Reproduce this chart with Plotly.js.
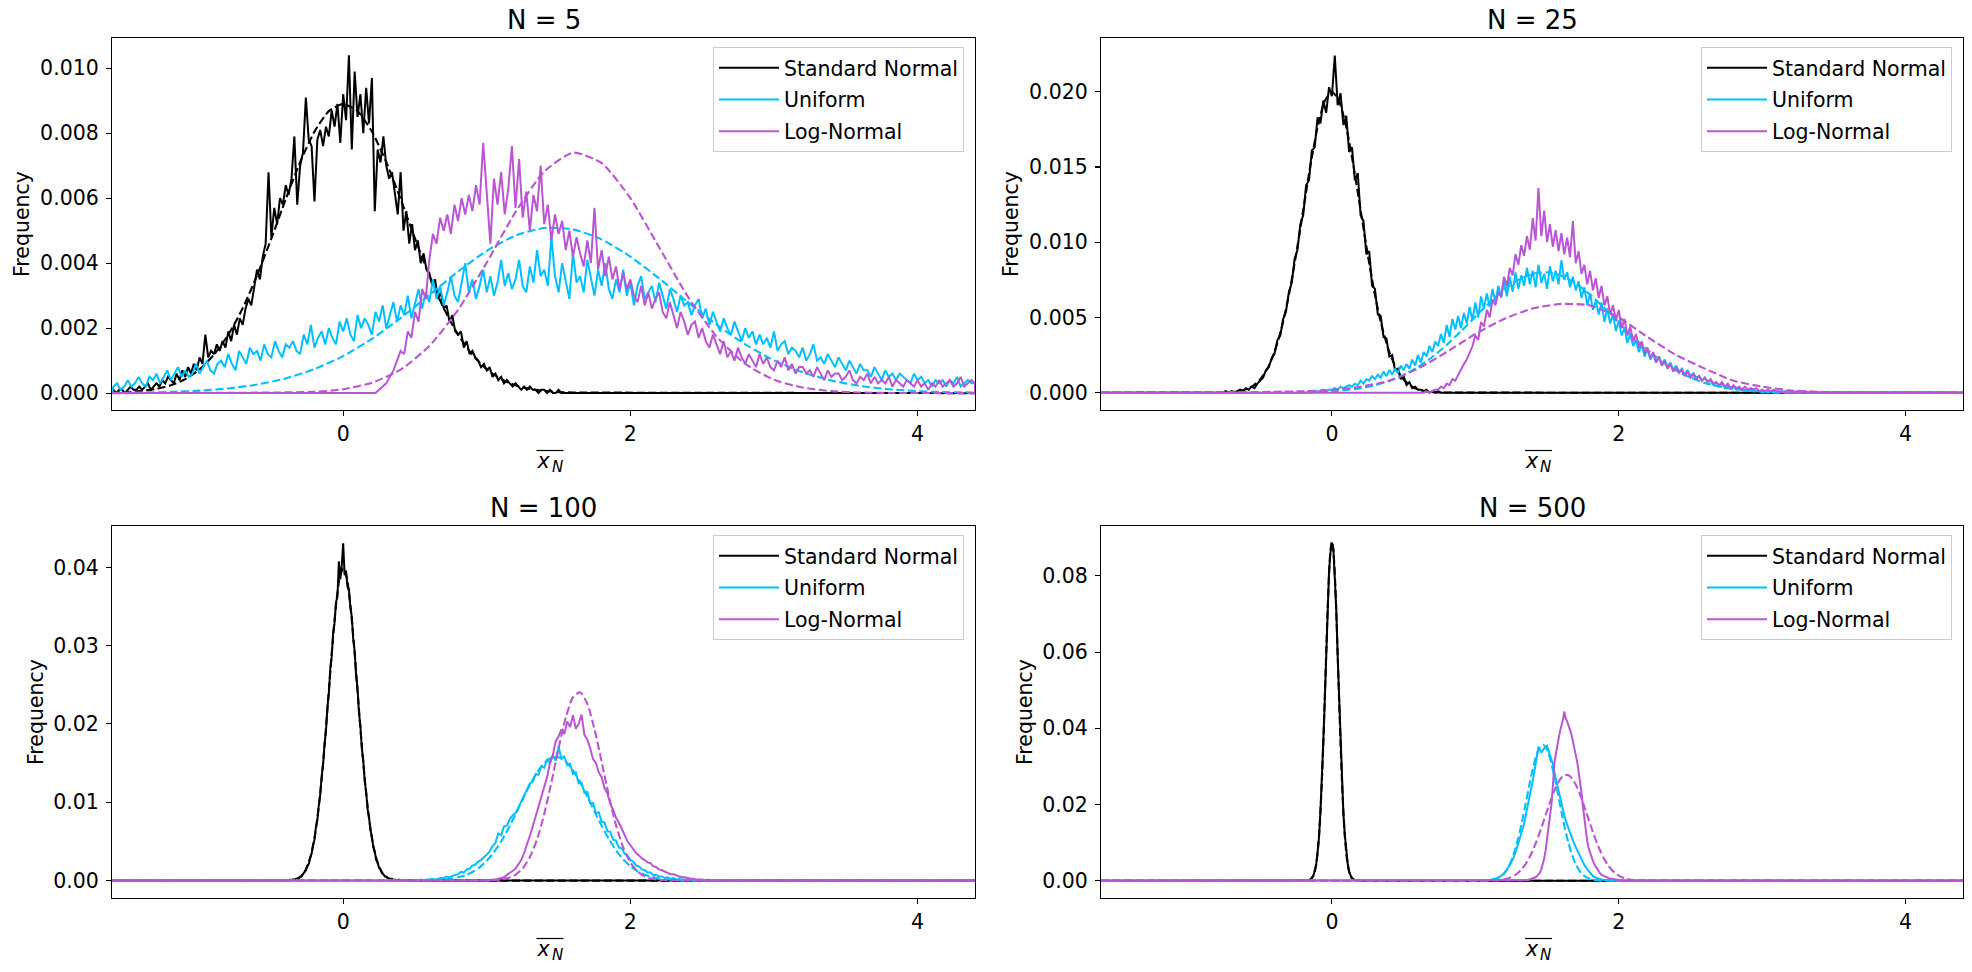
<!DOCTYPE html>
<html>
<head>
<meta charset="utf-8">
<script src="https://cdn.plot.ly/plotly-3.0.1.min.js"></script>
<style>html,body{margin:0;padding:0;background:#fff;}#chart{width:1972px;height:972px;}</style>
</head>
<body>
<div id="chart"></div>
<script>
// ---------------- DATA ----------------
const panelTitles = ['N = 5', 'N = 25', 'N = 100', 'N = 500'];
const seriesNames = ['Standard Normal', 'Uniform', 'Log-Normal'];
const xTickVals = [0, 2, 4];
const xLimits = [-1.61, 4.40];
const yLimits = [[-0.00052, 0.01093], [-0.00115, 0.02357], [-0.00225, 0.0453], [-0.00454, 0.0931]];
const yTickVals = [[0, 0.002, 0.004, 0.006, 0.008, 0.010], [0, 0.005, 0.010, 0.015, 0.020], [0, 0.01, 0.02, 0.03, 0.04], [0, 0.02, 0.04, 0.06, 0.08]];

// bin starts / steps for each histogram line [start, step]
const n5Bins = [[-1.6, 0.02], [-1.6, 0.025], [0.2, 0.025]];
const n5FitBins = [[-1.6, 0.1], [-1.6, 0.2], [-0.2, 0.2]];
const n25Bins = [[-0.8, 0.02], [-0.2, 0.02], [0.6, 0.02]];
const n25FitBins = [[-0.8, 0.05], [-0.2, 0.1], [-0.6, 0.2]];
const n100Bins = [[-0.4, 0.01], [0.5, 0.02], [1.0, 0.02]];
const n100FitBins = [[-0.4, 0.025], [0.5, 0.05], [1.0, 0.05]];
const n500Bins = [[-0.2, 0.01], [1.0, 0.02], [1.3, 0.01]];
const n500FitBins = [[-0.2, 0.01], [1.0, 0.025], [1.1, 0.025]];

// N = 5
const n5Norm = [
.0001,0,.0001,.0001,0,.0001,.0002,.0001,.0001,.0002,
.0001,.0002,.0003,.0001,.0002,.0003,.0002,.0004,.0003,.0005,
.0004,.0003,.0006,.0004,.0007,.0005,.0008,.0006,.0009,.0007,
.0011,.0009,.0018,.0011,.0013,.0012,.0015,.0013,.0016,.0014,
.0019,.0016,.0021,.0018,.0023,.0021,.0026,.0029,.0027,.0032,
.0038,.0035,.0042,.0046,.0068,.0048,.0057,.0052,.0060,.0058,
.0064,.0061,.0066,.0079,.0058,.0070,.0074,.0091,.0078,.0076,
.0059,.0078,.0081,.0076,.0082,.0079,.0087,.0082,.0089,.0077,
.0092,.0084,.0104,.0075,.0099,.0085,.0092,.0080,.0094,.0083,
.0097,.0056,.0075,.0071,.0079,.0070,.0066,.0068,.0062,.0055,
.0068,.0050,.0056,.0046,.0052,.0044,.0047,.0040,.0043,.0038,
.0037,.0033,.0035,.0029,.0031,.0026,.0027,.0022,.0024,.0019,
.0018,.0019,.0014,.0016,.0012,.0013,.0011,.0010,.0008,.0009,
.0007,.0008,.0005,.0006,.0004,.0005,.0003,.0004,.0003,.0002,
.0003,.0002,.0001,.0002,.0001,.0002,.0001,.0001,0,.0001,
.0001,0,.0001,0,0,.0001,0,0,0,0,
0];
const n5Unif = [
.0002,.0003,.0001,.0002,.0004,.0002,.0003,.0005,.0003,.0002,
.0005,.0004,.0006,.0003,.0005,.0007,.0004,.0006,.0008,.0005,
.0007,.0005,.0006,.0009,.0006,.0008,.0010,.0007,.0006,.0009,
.0010,.0008,.0012,.0009,.0007,.0013,.0011,.0009,.0014,.0012,
.0013,.0010,.0015,.0012,.0011,.0016,.0013,.0011,.0015,.0014,
.0016,.0013,.0012,.0018,.0015,.0021,.0014,.0017,.0019,.0015,
.0020,.0017,.0015,.0022,.0019,.0023,.0018,.0016,.0024,.0020,
.0023,.0021,.0018,.0025,.0022,.0027,.0020,.0024,.0028,.0022,
.0027,.0024,.0030,.0023,.0028,.0032,.0026,.0031,.0028,.0035,
.0029,.0033,.0027,.0031,.0036,.0030,.0028,.0034,.0040,.0031,
.0035,.0029,.0033,.0038,.0031,.0036,.0030,.0034,.0041,.0033,
.0037,.0032,.0035,.0041,.0033,.0031,.0039,.0034,.0044,.0036,
.0038,.0033,.0048,.0036,.0031,.0040,.0035,.0029,.0043,.0034,
.0036,.0031,.0041,.0035,.0030,.0038,.0033,.0040,.0032,.0029,
.0035,.0031,.0038,.0030,.0034,.0027,.0033,.0036,.0029,.0031,
.0033,.0028,.0034,.0030,.0026,.0032,.0029,.0025,.0030,.0027,
.0028,.0024,.0027,.0029,.0023,.0026,.0021,.0025,.0022,.0019,
.0023,.0020,.0018,.0022,.0019,.0016,.0020,.0017,.0019,.0015,
.0018,.0015,.0017,.0014,.0019,.0013,.0015,.0016,.0012,.0014,
.0013,.0011,.0014,.0010,.0012,.0015,.0010,.0011,.0009,.0012,
.0010,.0008,.0011,.0009,.0007,.0010,.0008,.0006,.0009,.0007,
.0007,.0005,.0008,.0006,.0004,.0007,.0005,.0006,.0004,.0006,
.0005,.0004,.0003,.0006,.0004,.0005,.0003,.0004,.0002,.0004,
.0003,.0004,.0002,.0004,.0003,.0005,.0002,.0003,.0004,.0003,
.0003];
const n5Logn = [
0,0,.0001,.0002,.0003,.0005,.0007,.0010,.0013,.0012,
.0019,.0017,.0025,.0022,.0032,.0029,.0041,.0049,.0046,.0054,
.0050,.0055,.0049,.0058,.0053,.0060,.0055,.0061,.0056,.0064,
.0058,.0077,.0060,.0046,.0066,.0058,.0068,.0055,.0063,.0076,
.0057,.0072,.0054,.0062,.0050,.0061,.0056,.0070,.0052,.0058,
.0047,.0055,.0049,.0053,.0044,.0050,.0042,.0048,.0043,.0039,
.0047,.0040,.0057,.0038,.0044,.0036,.0042,.0035,.0039,.0032,
.0037,.0032,.0035,.0030,.0028,.0033,.0027,.0031,.0026,.0029,
.0031,.0025,.0023,.0028,.0024,.0020,.0025,.0022,.0018,.0021,
.0022,.0017,.0020,.0016,.0014,.0018,.0015,.0012,.0016,.0011,
.0013,.0010,.0014,.0011,.0009,.0012,.0010,.0008,.0012,.0009,
.0011,.0008,.0007,.0010,.0008,.0011,.0007,.0009,.0006,.0008,
.0008,.0006,.0007,.0005,.0008,.0006,.0004,.0007,.0005,.0006,
.0006,.0004,.0005,.0007,.0004,.0003,.0005,.0004,.0006,.0003,
.0005,.0003,.0004,.0003,.0005,.0002,.0004,.0003,.0002,.0004,
.0003,.0002,.0004,.0002,.0003,.0001,.0003,.0002,.0004,.0002,
.0003,.0004,.0002,.0003,.0005,.0002,.0003,.0004,.0003];
const n5NormFit = [.00002,.00003,.00007,.00013,.00024,.00043,.00073,.00118,.0018,.00261,.00362,.00476,.00597,.00711,.00805,.00868,.0089,.00868,.00805,.00711,.00597,.00476,.00362,.00261,.0018,.00118,.00073,.00043,.00024,.00013,.00007,.00003,.00002];
const n5UnifFit = [.0000075,.000017,.000037,.000075,.000144,.000263,.000453,.00074,.00114,.00167,.00231,.00302,.00374,.00438,.00485,.00508,.00504,.00473,.0042,.00353,.0028,.00211,.0015,.00101,.00064,.00039,.00022,.00012,.00006,.00003,.000013];
const n5LognFit = [.00004,.00012,.00032,.00072,.00145,.00256,.00402,.00557,.00682,.0074,.00708,.006,.00449,.00297,.00174,.0009,.00041,.00017,.00006,.00002,.000005];

// N = 25
const n25Norm = [
0,0,0,.0001,0,.0001,0,.0001,.0002,.0001,
.0003,.0002,.0004,.0003,.0006,.0008,.0010,.0015,.0017,.0023,
.0026,.0035,.0038,.0049,.0054,.0067,.0073,.0089,.0095,.0112,
.0118,.0138,.0141,.0161,.0163,.0183,.0179,.0194,.0186,.0203,
.0197,.0224,.0191,.0199,.0178,.0184,.0160,.0163,.0141,.0146,
.0118,.0114,.0092,.0094,.0071,.0069,.0052,.0051,.0037,.0036,
.0024,.0025,.0015,.0016,.0009,.0011,.0005,.0007,.0003,.0004,
.0002,.0002,.0001,.0002,0,.0001,0,.0001,0,0,
0];
const n25Unif = [
0,0,.0001,0,.0001,.0001,.0001,.0002,.0001,.0002,
.0002,.0003,.0002,.0004,.0003,.0004,.0005,.0004,.0006,.0005,
.0008,.0006,.0009,.0008,.0011,.0009,.0012,.0010,.0014,.0011,
.0015,.0012,.0016,.0013,.0018,.0015,.0019,.0016,.0022,.0018,
.0025,.0020,.0027,.0024,.0031,.0027,.0034,.0031,.0039,.0033,
.0045,.0037,.0049,.0042,.0051,.0043,.0053,.0046,.0057,.0048,
.0060,.0050,.0064,.0056,.0066,.0057,.0069,.0060,.0071,.0063,
.0074,.0064,.0077,.0067,.0080,.0069,.0078,.0071,.0083,.0072,
.0081,.0070,.0085,.0073,.0079,.0069,.0084,.0074,.0081,.0072,
.0088,.0075,.0080,.0070,.0077,.0068,.0074,.0063,.0070,.0058,
.0066,.0055,.0061,.0052,.0060,.0047,.0056,.0046,.0052,.0041,
.0048,.0038,.0043,.0033,.0039,.0031,.0035,.0027,.0032,.0024,
.0029,.0022,.0026,.0020,.0024,.0019,.0022,.0017,.0020,.0015,
.0018,.0014,.0016,.0012,.0015,.0011,.0013,.0010,.0011,.0008,
.0010,.0007,.0008,.0005,.0007,.0004,.0006,.0003,.0005,.0003,
.0004,.0002,.0003,.0002,.0002,.0001,.0002,.0001,.0001,.0001,
0,.0001,0,.0001,0,0,0,.0001,0,0,
0];
const n25Logn = [
0,0,0,.0001,0,.0001,.0002,.0002,.0004,.0003,
.0006,.0005,.0009,.0008,.0012,.0015,.0019,.0022,.0027,.0031,
.0038,.0035,.0047,.0044,.0055,.0050,.0062,.0058,.0067,.0064,
.0077,.0071,.0083,.0078,.0092,.0085,.0098,.0091,.0104,.0095,
.0116,.0101,.0136,.0104,.0121,.0100,.0112,.0097,.0108,.0094,
.0106,.0092,.0103,.0090,.0114,.0086,.0094,.0079,.0085,.0072,
.0081,.0068,.0076,.0063,.0071,.0058,.0064,.0052,.0058,.0048,
.0055,.0043,.0049,.0038,.0044,.0034,.0039,.0030,.0034,.0026,
.0030,.0023,.0027,.0020,.0024,.0018,.0021,.0016,.0019,.0014,
.0017,.0013,.0015,.0011,.0014,.0010,.0012,.0009,.0011,.0008,
.0010,.0007,.0009,.0006,.0007,.0005,.0007,.0004,.0006,.0003,
.0005,.0003,.0004,.0002,.0004,.0002,.0003,.0002,.0003,.0001,
.0002,.0001,.0002,.0001,.0002,.0001,.0001,0,.0001,0,
.0001,0,.0001,0,0,.0001,0,0,0,0,
0];
const n25NormFit = [.00001,.00002,.00004,.0001,.00022,.00046,.00088,.00159,.00271,.00433,.00649,.00916,.01213,.0151,.01765,.01938,.02,.01938,.01765,.0151,.01213,.00916,.00649,.00433,.00271,.00159,.00088,.00046,.00022,.0001,.00004,.00002,.00001];
const n25UnifFit = [.00003,.00005,.0001,.00018,.0003,.00049,.00078,.00117,.0017,.00237,.00317,.00408,.00505,.00599,.00684,.0075,.0079,.008,.00777,.00726,.00652,.00562,.00466,.00371,.00284,.00208,.00147,.001,.00065,.00041,.00025,.00014,.00008,.00004,.00002];
const n25LognFit = [.00003,.00006,.0001,.00018,.0004,.0008,.0016,.0027,.0039,.0049,.0056,.0059,.0058,.005,.0037,.0025,.0016,.0008,.0004,.00015,.00006,.00002];

// N = 100
const n100Norm = [
0,0,0,.0001,0,.0001,.0001,.0002,.0001,.0003,
.0004,.0005,.0008,.0011,.0013,.0019,.0021,.0029,.0034,.0045,
.0052,.0068,.0077,.0096,.0109,.0133,.0148,.0174,.0191,.0221,
.0239,.0270,.0286,.0316,.0329,.0356,.0362,.0408,.0385,.0402,
.0431,.0390,.0396,.0375,.0372,.0349,.0337,.0308,.0293,.0262,
.0245,.0214,.0197,.0168,.0153,.0127,.0113,.0091,.0081,.0064,
.0056,.0042,.0037,.0026,.0023,.0016,.0014,.0009,.0008,.0005,
.0005,.0003,.0002,.0001,.0002,0,.0001,0,0,.0001,
0];
const n100Unif = [
0,0,.0001,0,.0001,.0001,.0002,.0001,.0002,.0003,
.0003,.0005,.0004,.0006,.0007,.0008,.0011,.0010,.0014,.0015,
.0019,.0020,.0024,.0026,.0029,.0033,.0037,.0044,.0048,.0060,
.0058,.0069,.0070,.0078,.0083,.0086,.0093,.0101,.0108,.0115,
.0124,.0126,.0136,.0135,.0146,.0144,.0155,.0150,.0160,.0153,
.0171,.0155,.0159,.0147,.0149,.0136,.0138,.0124,.0125,.0112,
.0113,.0099,.0099,.0086,.0087,.0075,.0074,.0063,.0062,.0052,
.0051,.0042,.0041,.0034,.0032,.0026,.0024,.0019,.0018,.0014,
.0013,.0010,.0010,.0007,.0007,.0005,.0005,.0003,.0004,.0002,
.0003,.0001,.0002,.0001,.0001,0,.0001,0,0,0,
0];
const n100Logn = [
0,0,.0001,.0001,.0002,.0003,.0004,.0007,.0009,.0012,
.0015,.0020,.0026,.0035,.0045,.0057,.0069,.0081,.0094,.0106,
.0119,.0132,.0150,.0160,.0178,.0184,.0193,.0187,.0203,.0196,
.0211,.0194,.0200,.0212,.0186,.0180,.0169,.0155,.0150,.0138,
.0132,.0118,.0111,.0098,.0090,.0080,.0074,.0065,.0058,.0050,
.0045,.0039,.0035,.0032,.0028,.0026,.0023,.0022,.0018,.0017,
.0014,.0013,.0011,.0010,.0008,.0008,.0006,.0005,.0004,.0004,
.0003,.0002,.0002,.0001,.0001,.0001,0,.0001,0,0,
0];
const n100NormFit = [.00001,.00004,.00009,.0002,.00044,.00091,.00175,.00318,.0054,.00864,.01296,.01827,.0242,.03012,.03521,.03867,.0399,.03867,.03521,.03012,.0242,.01827,.01296,.00864,.0054,.00318,.00175,.00091,.00044,.0002,.00009,.00004,.00001];
const n100UnifFit = [.000007,.000016,.00003,.00006,.00012,.00022,.00039,.00066,.00107,.00167,.0025,.0036,.00498,.00661,.00844,.01035,.0122,.0138,.015,.01569,.01575,.0152,.01408,.01254,.01073,.00882,.00697,.00528,.00385,.0027,.00182,.00117,.00073,.00044,.00025,.00014,.00007,.00004,.00002,.00001,0];
const n100LognFit = [.000014,.00004,.00012,.00031,.00072,.00153,.00296,.00524,.00847,.01252,.01689,.0208,.02341,.02406,.02258,.01935,.01514,.01083,.00707,.00421,.00229,.00114,.00052,.00021,.00008,.00003,.00001];

// N = 500
const n500Norm = [
0,0,0,.0001,.0002,.0003,.0008,.0012,.0026,.0041,
.0075,.0114,.0183,.0257,.0366,.0471,.0601,.0705,.0812,.0862,
.0887,.0872,.0799,.0716,.0590,.0481,.0357,.0265,.0177,.0120,
.0071,.0045,.0023,.0014,.0006,.0004,.0001,.0001,0,0,
0];
const n500Unif = [
0,0,0,0,.0001,.0002,.0003,.0005,.0008,.0012,
.0018,.0028,.0040,.0055,.0074,.0097,.0124,.0150,.0186,.0222,
.0262,.0305,.0352,.0336,.0347,.0354,.0331,.0306,.0270,.0238,
.0202,.0171,.0147,.0124,.0106,.0088,.0071,.0055,.0041,.0030,
.0020,.0012,.0008,.0005,.0003,.0002,.0001,.0001,0,0,
0];
const n500Logn = [
0,0,0,.0001,0,.0001,.0001,.0002,.0003,.0004,
.0005,.0007,.0009,.0012,.0016,.0021,.0030,.0042,.0058,.0080,
.0107,.0137,.0168,.0198,.0246,.0305,.0330,.0356,.0371,.0392,
.0405,.0421,.0444,.0426,.0418,.0403,.0396,.0384,.0366,.0352,
.0330,.0312,.0287,.0264,.0231,.0196,.0161,.0130,.0104,.0085,
.0072,.0061,.0052,.0043,.0036,.0029,.0024,.0019,.0015,.0013,
.0011,.0009,.0008,.0006,.0005,.0005,.0004,.0004,.0003,.0002,
.0002,.0002,.0001,.0001,.0001,0,.0001,0,0,0,
0];
const n500NormFit = [0,0,0,0,.00015,.0003,.0007,.0013,.0024,.0043,.0073,.0117,.018,.0261,.0362,.0476,.0596,.0711,.0805,.0868,.089,.0868,.0805,.0711,.0596,.0476,.0362,.0261,.018,.0117,.0073,.0043,.0024,.0013,.0007,.0003,.00015,0,0,0,0];
const n500UnifFit = [.000005,.000013,.00003,.00007,.00015,.00031,.0006,.00111,.00195,.00325,.00517,.00782,.01125,.0154,.02005,.02484,.02928,.03284,.03503,.03556,.03435,.03156,.02759,.02294,.01815,.01366,.00979,.00667,.00432,.00267,.00156,.00087,.00046,.00023,.00011,.00005,.00002,.00001,0,0,0];
const n500LognFit = [.00004,.00007,.00013,.00022,.00037,.0006,.00094,.00144,.00215,.0031,.00435,.00594,.00788,.01016,.01273,.0155,.01834,.02109,.02357,.0256,.02703,.02774,.02766,.0268,.02524,.0231,.02055,.01777,.01493,.01219,.00968,.00746,.0056,.00408,.00289,.00199,.00133,.00086,.00054,.00033,.0002,.00012,.00007,.00004,.00002];

// ---------------- DRAWING ----------------
const W = 1972, H = 972;
const px = v => v / W, py = v => 1 - v / H;
const colors = ['#000000', '#00bfff', '#ba55d3'];
const FONT = 'DejaVu Sans, Liberation Sans, sans-serif';
const FS = 20.5;

// plot area boxes in pixels [left, right, top, bottom]
const boxes = [[112, 975, 38, 410], [1101, 1963, 38, 410], [112, 975, 526, 898], [1101, 1963, 526, 898]];

const panels = [
  {hist: [n5Norm, n5Unif, n5Logn], fit: [n5NormFit, n5UnifFit, n5LognFit], bins: n5Bins, fitBins: n5FitBins},
  {hist: [n25Norm, n25Unif, n25Logn], fit: [n25NormFit, n25UnifFit, n25LognFit], bins: n25Bins, fitBins: n25FitBins},
  {hist: [n100Norm, n100Unif, n100Logn], fit: [n100NormFit, n100UnifFit, n100LognFit], bins: n100Bins, fitBins: n100FitBins},
  {hist: [n500Norm, n500Unif, n500Logn], fit: [n500NormFit, n500UnifFit, n500LognFit], bins: n500Bins, fitBins: n500FitBins}
];

function line(bin, ys) {
  const x = [xLimits[0]], y = [0];
  ys.forEach((v, i) => { x.push(+(bin[0] + i * bin[1]).toFixed(4)); y.push(v); });
  x.push(xLimits[1]); y.push(0);
  return {x, y};
}

const traces = [];
const layout = {
  width: W, height: H,
  margin: {l: 0, r: 0, t: 0, b: 0, pad: 0},
  paper_bgcolor: '#ffffff', plot_bgcolor: '#ffffff',
  font: {family: FONT, size: FS, color: '#000'},
  showlegend: true,
  annotations: [], shapes: []
};

panels.forEach((p, i) => {
  const k = i === 0 ? '' : String(i + 1);
  const b = boxes[i];
  for (let s = 0; s < 3; s++) {
    const h = line(p.bins[s], p.hist[s]);
    traces.push({
      type: 'scatter', mode: 'lines', x: h.x, y: h.y, name: seriesNames[s],
      xaxis: 'x' + k, yaxis: 'y' + k, legend: 'legend' + k, legendgroup: 'g' + i + s,
      line: {color: colors[s], width: 2}, hoverinfo: 'skip'
    });
    const f = line(p.fitBins[s], p.fit[s]);
    traces.push({
      type: 'scatter', mode: 'lines', x: f.x, y: f.y, name: seriesNames[s] + ' fit',
      xaxis: 'x' + k, yaxis: 'y' + k, showlegend: false,
      line: {color: colors[s], width: 2.1, dash: '8px,3.5px', shape: 'spline', smoothing: 0.6}, hoverinfo: 'skip'
    });
  }
  const axCommon = {
    showline: true, mirror: true, linecolor: '#000', linewidth: 1.1,
    ticks: 'outside', ticklen: 5, tickwidth: 1.1, tickcolor: '#000',
    showgrid: false, zeroline: false, automargin: false,
    tickfont: {family: FONT, size: FS, color: '#000'}
  };
  layout['xaxis' + k] = Object.assign({}, axCommon, {
    domain: [px(b[0]), px(b[1])], anchor: 'y' + k, range: xLimits,
    tickmode: 'array', tickvals: xTickVals, ticktext: xTickVals.map(String),
    title: {text: 'x', font: {family: FONT, size: FS, color: '#000', style: 'italic'}, standoff: 8}
  });
  layout['yaxis' + k] = Object.assign({}, axCommon, {
    domain: [py(b[3]), py(b[2])], anchor: 'x' + k, range: yLimits[i],
    tickmode: 'array', tickvals: yTickVals[i], tickformat: i < 2 ? '.3f' : '.2f',
    ticklabelstandoff: 3,
    title: {text: 'Frequency', font: {family: FONT, size: FS, color: '#000'}, standoff: 4}
  });
  layout['legend' + k] = {
    x: px(b[1] - 11), xanchor: 'right', y: py(b[2] + 9), yanchor: 'top',
    bgcolor: 'rgba(255,255,255,0.8)', bordercolor: '#cccccc', borderwidth: 1,
    font: {family: FONT, size: FS, color: '#000'}, tracegroupgap: 2, itemwidth: 60
  };
  const cx = (b[0] + b[1]) / 2;
  layout.annotations.push({
    text: panelTitles[i], xref: 'paper', yref: 'paper', x: px(cx), y: py(b[2] - 18),
    xanchor: 'center', yanchor: 'middle', showarrow: false,
    font: {family: FONT, size: 26, color: '#000'}
  });
  // subscript N of the x-axis label
  layout.annotations.push({
    text: 'N', xref: 'paper', yref: 'paper', x: px(cx + 6), y: py(b[3] + 57),
    xanchor: 'left', yanchor: 'middle', showarrow: false,
    font: {family: FONT, size: 15, color: '#000', style: 'italic'}
  });
  // overline of the x-axis label
  layout.shapes.push({
    type: 'line', xref: 'paper', yref: 'paper', x0: px(cx - 7), x1: px(cx + 20),
    y0: py(b[3] + 40.5), y1: py(b[3] + 40.5), line: {color: '#000', width: 1.2}
  });
});

Plotly.newPlot('chart', traces, layout, {staticPlot: true, displayModeBar: false});
</script>
</body>
</html>
